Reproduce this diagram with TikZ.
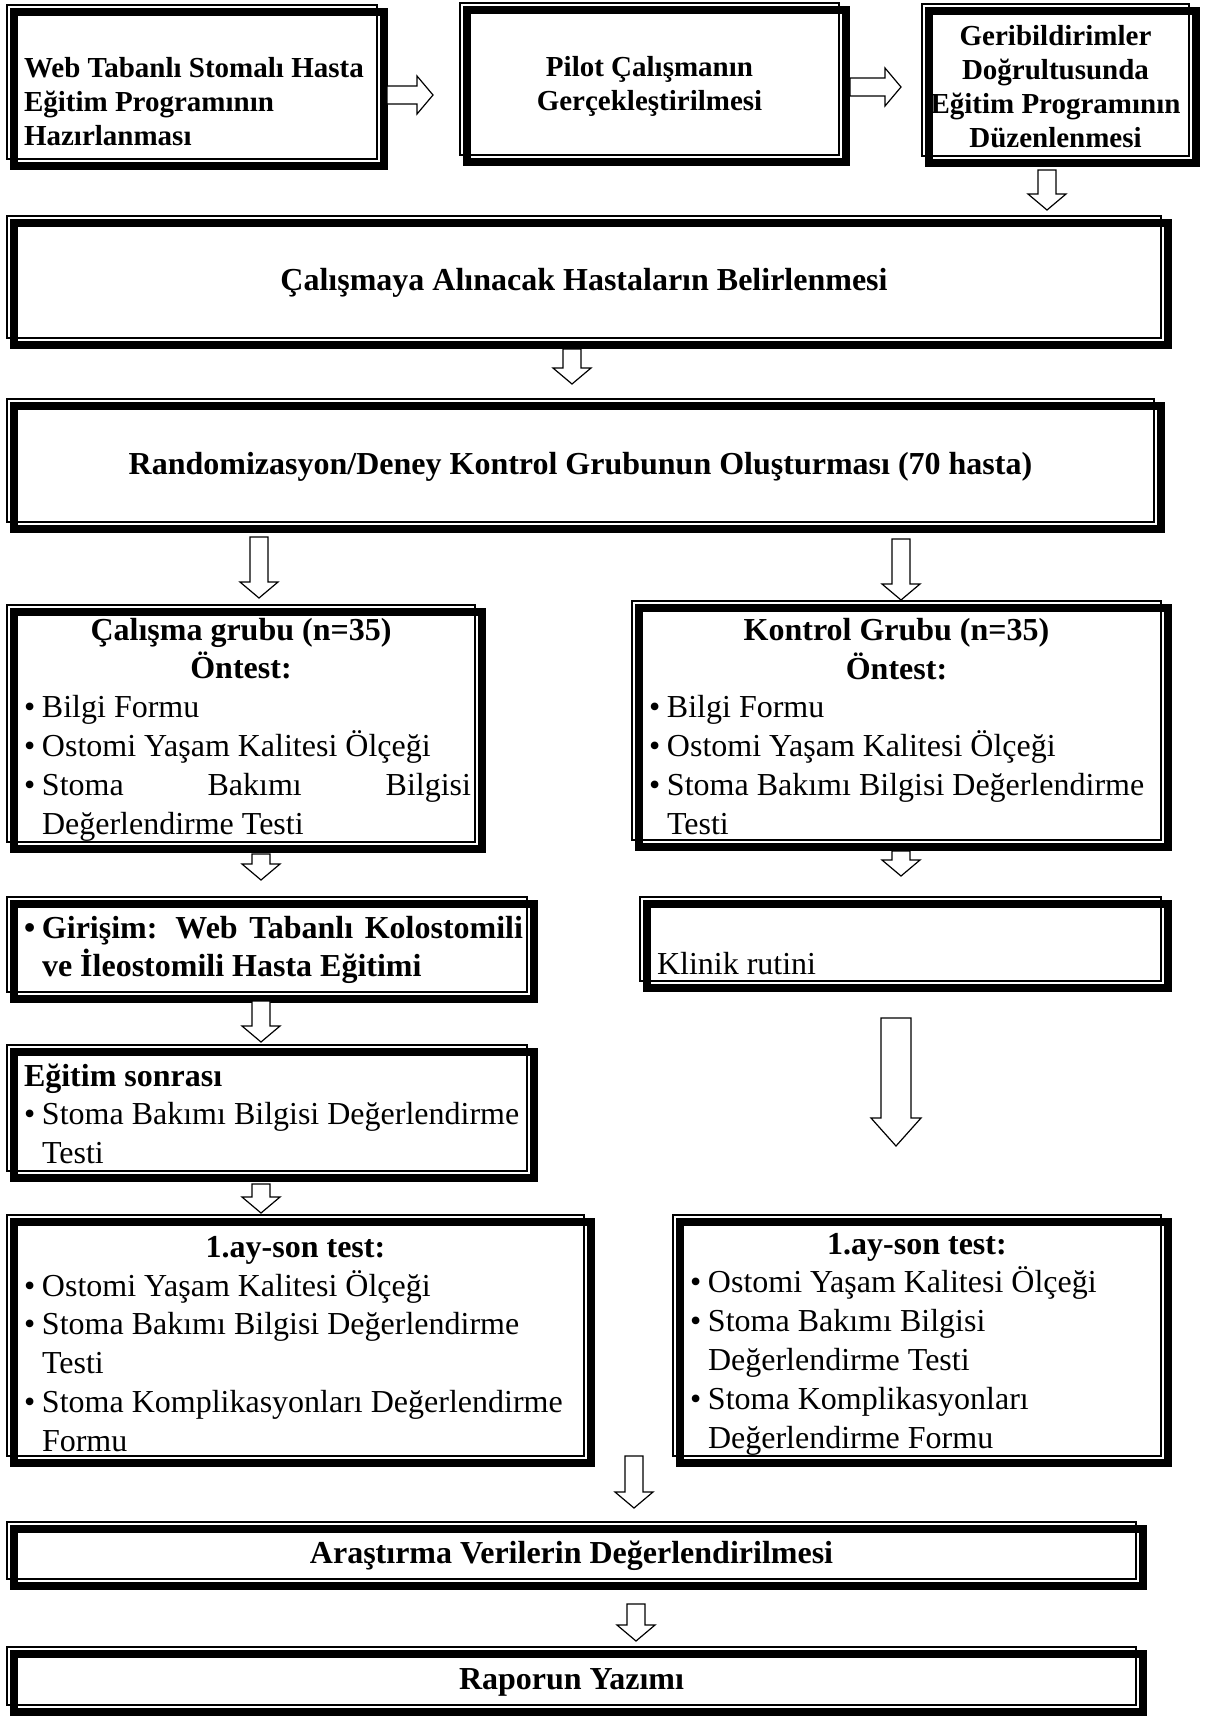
\documentclass[tikz,border=0pt]{standalone}
\usepackage{fontspec}
\setmainfont{Liberation Serif}
\usetikzlibrary{calc}

% hollow block arrows (down / right)
\newcommand\shaftw{4.5pt}
\newcommand\headw{9.5pt}
\newcommand\headl{8pt}
\newcommand\arrdown[2]{\draw[blockarr] let \p1=#1, \p2=#2 in
  (\x1-\shaftw,\y1) -- (\x1-\shaftw,\y2+\headl) -- (\x1-\headw,\y2+\headl) -- (\x1,\y2)
  -- (\x1+\headw,\y2+\headl) -- (\x1+\shaftw,\y2+\headl) -- (\x1+\shaftw,\y1) -- cycle;}
\newcommand\arrright[2]{\draw[blockarr] let \p1=#1, \p2=#2 in
  (\x1,\y1+\shaftw) -- (\x2-\headl,\y1+\shaftw) -- (\x2-\headl,\y1+\headw) -- (\x2,\y1)
  -- (\x2-\headl,\y1-\headw) -- (\x2-\headl,\y1-\shaftw) -- (\x1,\y1-\shaftw) -- cycle;}
\newcommand\blt[1]{\noindent\hangindent=9pt\hangafter=1\makebox[9pt][l]{\textbullet}#1\par}

\tikzset{
  base/.style={draw, line width=1pt, inner xsep=2pt, inner ysep=0.5pt, outer sep=0pt},
  lbox/.style 2 args={base, align=justify, minimum width=#1, text width=#1-4pt, minimum height=#2,
    execute at begin node={\parindent=0pt\leftskip=6.5pt\rule{0pt}{17pt}}},
  cbox/.style 2 args={base, align=flush center, minimum width=#1, text width=#1-4pt, minimum height=#2,
    execute at begin node={\rule{0pt}{17pt}}},
  topfont/.style={font=\fontsize{14.5}{17}\selectfont\bfseries},
  bodyfont/.style={font=\fontsize{16}{19.4}\selectfont},
  headfont/.style={font=\fontsize{16}{19}\selectfont\bfseries},
  blockarr/.style={draw, fill=white, line width=0.6pt}
}

\begin{document}
\begin{tikzpicture}[x=0.5pt, y=-0.5pt]
\useasboundingbox (0,0) rectangle (1216,1720);

% boxes
\node[lbox={185pt}{77pt}, topfont] (A) at (192,82)
  {\rule{0pt}{30pt}Web Tabanlı Stomalı Hasta\\Eğitim Programının\\Hazırlanması};
\node[cbox={189.5pt}{76pt}, topfont] (B) at (649.5,79)
  {Pilot Çalışmanın\\Gerçekleştirilmesi};
\node[cbox={133.5pt}{76pt}, topfont] (C) at (1055.5,80)
  {Geribildirimler\\Doğrultusunda\\Eğitim Programının\\Düzenlenmesi};
\node[cbox={577pt}{61pt}, headfont] (D) at (584,277)
  {Çalışmaya Alınacak Hastaların Belirlenmesi};
\node[cbox={573.5pt}{61.5pt}, headfont] (E) at (580.5,460.5)
  {Randomizasyon/Deney Kontrol Grubunun Oluşturması (70 hasta)};
\node[lbox={234pt}{118.5pt}, bodyfont] (F) at (241,723.5)
  {{\centering\bfseries Çalışma grubu (n=35)\\Öntest:\par}
   \blt{Bilgi Formu}
   \blt{Ostomi Yaşam Kalitesi Ölçeği}
   \blt{Stoma Bakımı Bilgisi\linebreak Değerlendirme Testi}};
\node[lbox={264.5pt}{119.5pt}, bodyfont] (G) at (896.5,720.5)
  {{\centering\bfseries Kontrol Grubu (n=35)\\Öntest:\par}
   \blt{Bilgi Formu}
   \blt{Ostomi Yaşam Kalitesi Ölçeği}
   \blt{Stoma Bakımı Bilgisi Değerlendirme\\Testi}};
\node[lbox={260pt}{47.5pt}, headfont] (H) at (267,944.5)
  {\blt{Girişim: Web Tabanlı Kolostomili\linebreak ve İleostomili Hasta Eğitimi}};
\node[lbox={260.5pt}{42pt}, bodyfont] (I) at (900.5,939)
  {\rule{0pt}{36pt}Klinik rutini};
\node[lbox={260pt}{63pt}, bodyfont] (J) at (267,1108)
  {{\bfseries Eğitim sonrası}\par
   \blt{Stoma Bakımı Bilgisi Değerlendirme\\Testi}};
\node[lbox={288.5pt}{120.5pt}, bodyfont] (K) at (295.5,1335.5)
  {{\centering\bfseries\rule{0pt}{19pt}1.ay-son test:\par}
   \blt{Ostomi Yaşam Kalitesi Ölçeği}
   \blt{Stoma Bakımı Bilgisi Değerlendirme\\Testi}
   \blt{Stoma Komplikasyonları Değerlendirme\\Formu}};
\node[lbox={244pt}{120.5pt}, bodyfont] (L) at (917,1335.5)
  {{\centering\bfseries\rule{0pt}{19pt}1.ay-son test:\par}
   \blt{Ostomi Yaşam Kalitesi Ölçeği}
   \blt{Stoma Bakımı Bilgisi\\Değerlendirme Testi}
   \blt{Stoma Komplikasyonları\\Değerlendirme Formu}};
\node[cbox={564.5pt}{28.5pt}, headfont] (M) at (571.5,1550.5)
  {Araştırma Verilerin Değerlendirilmesi};
\node[cbox={564.5pt}{29pt}, headfont] (N) at (571.5,1676)
  {Raporun Yazımı};

% thick shadow frames
\foreach \k in {A,B,C,D,E,F,G,H,I,J,K,L,M,N}
  \draw[line width=3.75pt] ([shift={(3.5pt,-3.5pt)}]\k.north west) rectangle ([shift={(3.5pt,-3.5pt)}]\k.south east);

% arrows
\arrright{([xshift=5pt,yshift=-6.5pt]A.east)}{([xshift=-13.5pt]B.west)}
\arrright{([xshift=5.5pt,yshift=-4pt]B.east)}{([xshift=-10.5pt]C.west)}
\arrdown{([xshift=-4.25pt,yshift=-7pt]C.south)}{([yshift=3pt]D.north)}
\arrdown{([xshift=-6pt,yshift=-5.5pt]D.south)}{([yshift=7.5pt]E.north)}
\arrdown{($(F.north |- E.south)+(9pt,-7.5pt)$)}{([yshift=3.5pt]F.north)}
\arrdown{($(G.north |- E.south)+(2.25pt,-8.5pt)$)}{([yshift=0.5pt]G.north)}
\arrdown{([xshift=10pt,yshift=-6pt]F.south)}{([yshift=8.5pt]H.north)}
\arrdown{([xshift=2.25pt,yshift=-5.5pt]G.south)}{([yshift=10.5pt]I.north)}
\arrdown{([xshift=-3pt,yshift=-4.5pt]H.south)}{([yshift=1.5pt]J.north)}
\begin{scope}
  \renewcommand\shaftw{7.5pt}\renewcommand\headw{12.5pt}\renewcommand\headl{14pt}
  \arrdown{([xshift=-2.25pt,yshift=-18.5pt]I.south)}{([yshift=34.5pt]L.north)}
\end{scope}
\arrdown{([xshift=-3pt,yshift=-6.5pt]J.south)}{([yshift=1pt]K.north)}
\arrdown{([xshift=25pt]K.south east)}{([yshift=7pt]M.north)}
\arrdown{([xshift=32.25pt,yshift=-12.5pt]M.south)}{([yshift=3pt]N.north)}
\end{tikzpicture}
\end{document}
